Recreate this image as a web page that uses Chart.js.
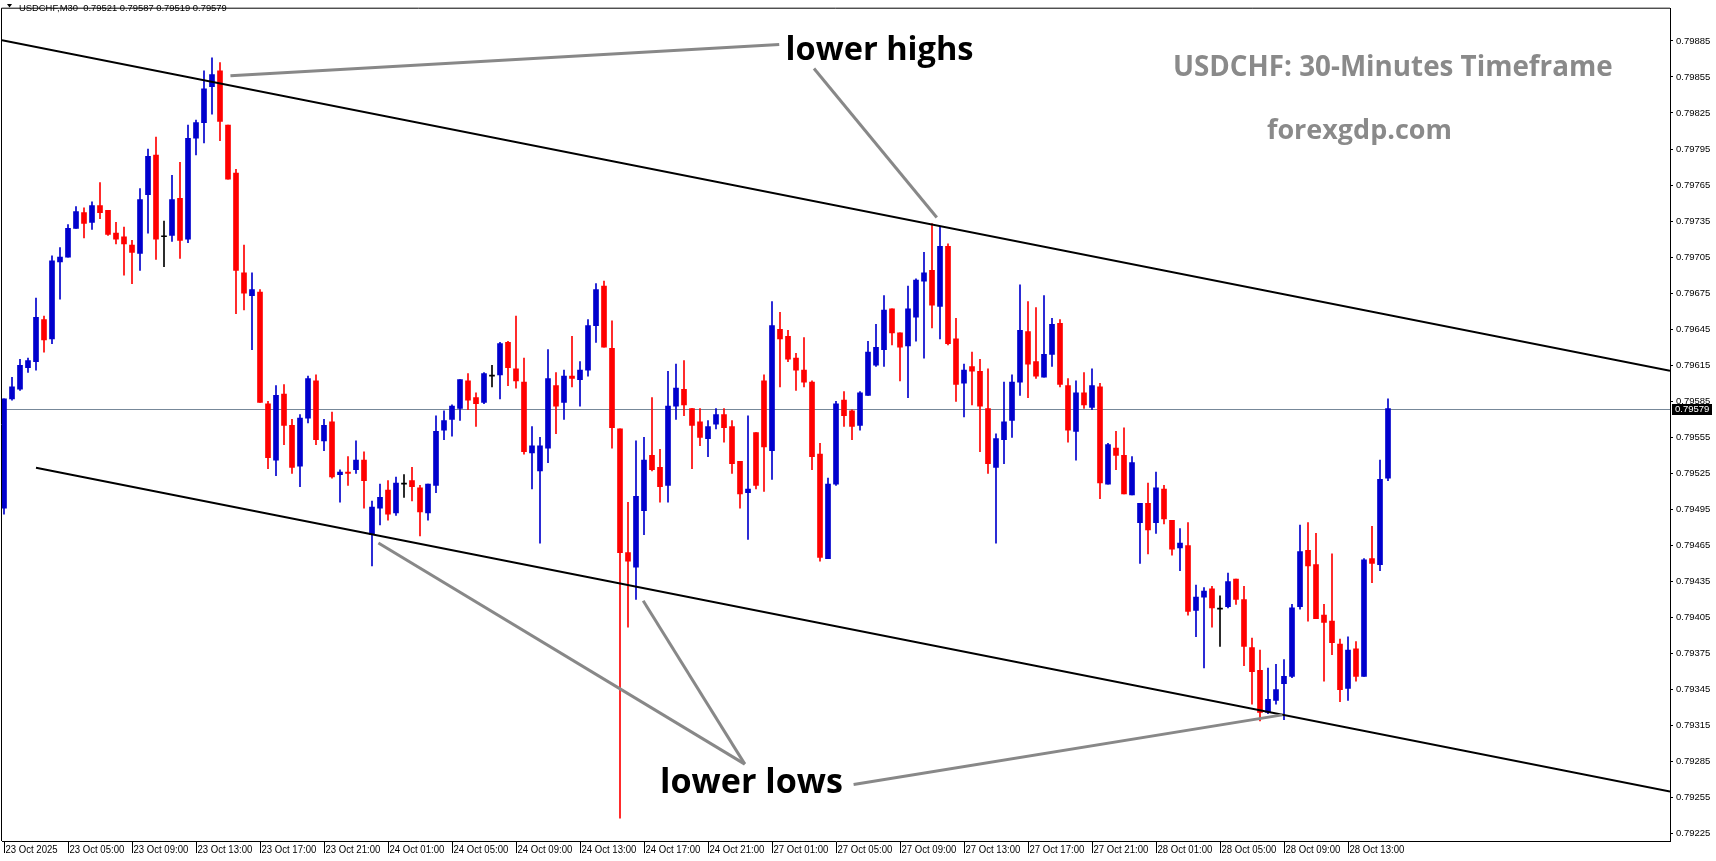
<!DOCTYPE html>
<html>
<head>
<meta charset="utf-8">
<title>USDCHF M30</title>
<script src="https://cdn.jsdelivr.net/npm/chart.js@4.4.1/dist/chart.umd.min.js"></script>
<style>
  html, body { margin: 0; padding: 0; background: #ffffff; }
</style>
</head>
<body>
<canvas id="myChart" width="1716" height="861"></canvas>
<script>
// USDCHF M30 candles, bar 0 = 23 Oct 01:00
const opens = [
  0.79496, 0.79587, 0.79595, 0.79613, 0.79618, 0.79653, 0.79637, 0.79701, 0.79705, 0.79729,
  0.79742, 0.79734, 0.79748, 0.79744, 0.79725, 0.79722, 0.79715, 0.79708, 0.79757, 0.79790,
  0.79722, 0.79723, 0.79754, 0.79720, 0.79804, 0.79817, 0.79847, 0.79860, 0.79815, 0.79775,
  0.79692, 0.79673, 0.79676, 0.79583, 0.79536, 0.79591, 0.79565, 0.79531, 0.79571, 0.79602,
  0.79552, 0.79568, 0.79524, 0.79526, 0.79528, 0.79536, 0.79474, 0.79496, 0.79511, 0.79492,
  0.79516, 0.79519, 0.79513, 0.79492, 0.79515, 0.79561, 0.79570, 0.79579, 0.79602, 0.79588,
  0.79584, 0.79606, 0.79607, 0.79634, 0.79612, 0.79601, 0.79542, 0.79527, 0.79546, 0.79598,
  0.79584, 0.79606, 0.79603, 0.79611, 0.79648, 0.79681, 0.79629, 0.79562, 0.79459, 0.79447,
  0.79494, 0.79540, 0.79530, 0.79515, 0.79581, 0.79595, 0.79579, 0.79568, 0.79554, 0.79566,
  0.79574, 0.79564, 0.79535, 0.79509, 0.79559, 0.79602, 0.79544, 0.79645, 0.79639, 0.79621,
  0.79611, 0.79601, 0.79541, 0.79454, 0.79516, 0.79586, 0.79577, 0.79565, 0.79590, 0.79615,
  0.79628, 0.79662, 0.79642, 0.79631, 0.79655, 0.79685, 0.79694, 0.79664, 0.79714, 0.79637,
  0.79600, 0.79614, 0.79610, 0.79579, 0.79530, 0.79553, 0.79569, 0.79601, 0.79643, 0.79618,
  0.79605, 0.79624, 0.79650, 0.79598, 0.79560, 0.79592, 0.79580, 0.79597, 0.79516, 0.79546,
  0.79540, 0.79507, 0.79484, 0.79500, 0.79484, 0.79512, 0.79486, 0.79463, 0.79465, 0.79411,
  0.79422, 0.79429, 0.79412, 0.79414, 0.79437, 0.79420, 0.79380, 0.79361, 0.79326, 0.79336,
  0.79350, 0.79356, 0.79414, 0.79461, 0.79449, 0.79407, 0.79402, 0.79383, 0.79346, 0.79379,
  0.79356, 0.79454, 0.79449, 0.79521
];
const highs = [
  0.79587, 0.79605, 0.79620, 0.79621, 0.79671, 0.79656, 0.79706, 0.79713, 0.79732, 0.79747,
  0.79746, 0.79751, 0.79767, 0.79744, 0.79734, 0.79730, 0.79719, 0.79762, 0.79795, 0.79805,
  0.79735, 0.79773, 0.79784, 0.79815, 0.79819, 0.79860, 0.79871, 0.79867, 0.79815, 0.79778,
  0.79715, 0.79692, 0.79678, 0.79585, 0.79598, 0.79599, 0.79570, 0.79574, 0.79606, 0.79607,
  0.79570, 0.79576, 0.79528, 0.79539, 0.79552, 0.79543, 0.79502, 0.79516, 0.79519, 0.79522,
  0.79524, 0.79530, 0.79515, 0.79516, 0.79573, 0.79577, 0.79582, 0.79603, 0.79608, 0.79592,
  0.79609, 0.79615, 0.79634, 0.79635, 0.79656, 0.79621, 0.79564, 0.79555, 0.79628, 0.79609,
  0.79611, 0.79639, 0.79618, 0.79653, 0.79683, 0.79685, 0.79652, 0.79562, 0.79501, 0.79552,
  0.79555, 0.79588, 0.79545, 0.79610, 0.79616, 0.79619, 0.79579, 0.79579, 0.79569, 0.79579,
  0.79579, 0.79569, 0.79535, 0.79573, 0.79559, 0.79607, 0.79668, 0.79659, 0.79644, 0.79625,
  0.79638, 0.79602, 0.79550, 0.79521, 0.79585, 0.79593, 0.79578, 0.79593, 0.79635, 0.79649,
  0.79673, 0.79662, 0.79642, 0.79681, 0.79687, 0.79709, 0.79733, 0.79730, 0.79716, 0.79654,
  0.79616, 0.79626, 0.79620, 0.79612, 0.79558, 0.79601, 0.79607, 0.79682, 0.79668, 0.79663,
  0.79673, 0.79654, 0.79653, 0.79604, 0.79602, 0.79609, 0.79612, 0.79600, 0.79550, 0.79560,
  0.79563, 0.79539, 0.79500, 0.79517, 0.79526, 0.79515, 0.79486, 0.79479, 0.79484, 0.79432,
  0.79430, 0.79431, 0.79423, 0.79442, 0.79437, 0.79431, 0.79388, 0.79378, 0.79363, 0.79366,
  0.79370, 0.79416, 0.79482, 0.79484, 0.79475, 0.79416, 0.79458, 0.79387, 0.79389, 0.79385,
  0.79454, 0.79481, 0.79536, 0.79587
];
const lows = [
  0.79491, 0.79586, 0.79594, 0.79609, 0.79611, 0.79626, 0.79633, 0.79670, 0.79705, 0.79729,
  0.79721, 0.79728, 0.79737, 0.79723, 0.79716, 0.79690, 0.79683, 0.79694, 0.79725, 0.79703,
  0.79697, 0.79718, 0.79704, 0.79717, 0.79790, 0.79800, 0.79824, 0.79802, 0.79770, 0.79658,
  0.79661, 0.79628, 0.79584, 0.79529, 0.79523, 0.79549, 0.79525, 0.79514, 0.79567, 0.79549,
  0.79544, 0.79521, 0.79501, 0.79515, 0.79525, 0.79496, 0.79448, 0.79482, 0.79486, 0.79490,
  0.79505, 0.79502, 0.79473, 0.79486, 0.79509, 0.79553, 0.79556, 0.79569, 0.79578, 0.79564,
  0.79583, 0.79597, 0.79587, 0.79598, 0.79596, 0.79541, 0.79512, 0.79467, 0.79534, 0.79558,
  0.79570, 0.79597, 0.79581, 0.79606, 0.79634, 0.79630, 0.79546, 0.79238, 0.79397, 0.79420,
  0.79474, 0.79527, 0.79501, 0.79501, 0.79570, 0.79573, 0.79529, 0.79548, 0.79539, 0.79562,
  0.79551, 0.79525, 0.79496, 0.79470, 0.79512, 0.79510, 0.79520, 0.79597, 0.79618, 0.79594,
  0.79597, 0.79528, 0.79452, 0.79454, 0.79515, 0.79564, 0.79553, 0.79561, 0.79590, 0.79614,
  0.79614, 0.79632, 0.79602, 0.79588, 0.79635, 0.79621, 0.79646, 0.79637, 0.79632, 0.79585,
  0.79572, 0.79582, 0.79543, 0.79525, 0.79467, 0.79533, 0.79555, 0.79590, 0.79588, 0.79604,
  0.79605, 0.79614, 0.79597, 0.79551, 0.79536, 0.79579, 0.79578, 0.79504, 0.79516, 0.79528,
  0.79508, 0.79507, 0.79450, 0.79458, 0.79475, 0.79483, 0.79457, 0.79444, 0.79407, 0.79389,
  0.79363, 0.79397, 0.79381, 0.79413, 0.79416, 0.79365, 0.79333, 0.79319, 0.79325, 0.79333,
  0.79320, 0.79355, 0.79412, 0.79402, 0.79404, 0.79352, 0.79374, 0.79335, 0.79336, 0.79352,
  0.79356, 0.79434, 0.79444, 0.79519
];
const closes = [
  0.79587, 0.79597, 0.79615, 0.79619, 0.79655, 0.79636, 0.79702, 0.79705, 0.79729, 0.79743,
  0.79733, 0.79748, 0.79742, 0.79724, 0.79720, 0.79716, 0.79709, 0.79753, 0.79789, 0.79720,
  0.79722, 0.79753, 0.79719, 0.79804, 0.79817, 0.79845, 0.79857, 0.79818, 0.79770, 0.79694,
  0.79675, 0.79678, 0.79584, 0.79538, 0.79590, 0.79565, 0.79530, 0.79571, 0.79604, 0.79553,
  0.79565, 0.79522, 0.79526, 0.79525, 0.79536, 0.79519, 0.79497, 0.79505, 0.79491, 0.79517,
  0.79516, 0.79514, 0.79493, 0.79516, 0.79560, 0.79569, 0.79581, 0.79603, 0.79586, 0.79583,
  0.79608, 0.79606, 0.79633, 0.79613, 0.79602, 0.79543, 0.79548, 0.79548, 0.79604, 0.79581,
  0.79606, 0.79604, 0.79611, 0.79648, 0.79678, 0.79630, 0.79563, 0.79459, 0.79452, 0.79506,
  0.79536, 0.79528, 0.79514, 0.79581, 0.79596, 0.79582, 0.79565, 0.79555, 0.79564, 0.79574,
  0.79563, 0.79533, 0.79508, 0.79512, 0.79515, 0.79547, 0.79648, 0.79637, 0.79620, 0.79611,
  0.79601, 0.79539, 0.79455, 0.79516, 0.79583, 0.79573, 0.79564, 0.79592, 0.79626, 0.79630,
  0.79661, 0.79642, 0.79630, 0.79662, 0.79686, 0.79692, 0.79665, 0.79714, 0.79633, 0.79599,
  0.79611, 0.79610, 0.79581, 0.79533, 0.79554, 0.79568, 0.79601, 0.79644, 0.79616, 0.79606,
  0.79624, 0.79649, 0.79599, 0.79561, 0.79592, 0.79582, 0.79598, 0.79517, 0.79549, 0.79540,
  0.79508, 0.79534, 0.79500, 0.79478, 0.79513, 0.79487, 0.79462, 0.79467, 0.79410, 0.79422,
  0.79427, 0.79413, 0.79412, 0.79435, 0.79420, 0.79381, 0.79360, 0.79326, 0.79337, 0.79345,
  0.79356, 0.79413, 0.79460, 0.79448, 0.79404, 0.79401, 0.79384, 0.79345, 0.79378, 0.79356,
  0.79453, 0.79450, 0.79520, 0.79579
];

// time axis labels, one every 8 bars (4 hours)
const timeLabels = [
  "23 Oct 2025", "23 Oct 05:00", "23 Oct 09:00", "23 Oct 13:00", "23 Oct 17:00", "23 Oct 21:00",
  "24 Oct 01:00", "24 Oct 05:00", "24 Oct 09:00", "24 Oct 13:00", "24 Oct 17:00", "24 Oct 21:00",
  "27 Oct 01:00", "27 Oct 05:00", "27 Oct 09:00", "27 Oct 13:00", "27 Oct 17:00", "27 Oct 21:00",
  "28 Oct 01:00", "28 Oct 05:00", "28 Oct 09:00", "28 Oct 13:00"
];
const labelStep = 8;

// price axis ticks
const priceTicks = [
  0.79225, 0.79255, 0.79285, 0.79315, 0.79345, 0.79375, 0.79405, 0.79435,
  0.79465, 0.79495, 0.79525, 0.79555, 0.79585, 0.79615, 0.79645, 0.79675,
  0.79705, 0.79735, 0.79765, 0.79795, 0.79825, 0.79855, 0.79885
];

const symbolText = "USDCHF,M30  ";
const titleText = "USDCHF: 30-Minutes Timeframe";
const siteText = "forexgdp.com";

// colors and fonts
const upColor = "#0000cd";
const downColor = "#ff0000";
const dojiColor = "#000000";
const axisFont = "'Liberation Sans', Arial, sans-serif";
const noteFont = "'Open Sans', 'Liberation Sans', sans-serif";

const lastIdx = closes.length - 1;
const lastClose = closes[lastIdx];

// candle color from direction
const candleColors = opens.map((o, i) =>
  closes[i] > o ? upColor : (closes[i] < o ? downColor : dojiColor));

// floating bars for bodies and wicks
const bodies = opens.map((o, i) => ({ x: i, y: [Math.min(o, closes[i]), Math.max(o, closes[i])] }));
const wicks = highs.map((h, i) => ({ x: i, y: [lows[i], h] }));

// channel lines: anchor bar, price and slope per bar
const channel = {
  slope: -0.0000132,
  upper: [26, 0.79851],
  lower: [4, 0.795297]
};

// grey pointer lines, in bar / price units
const pointerLines = [
  [[28.3, 0.79856], [96.9, 0.79882]],
  [[101.25, 0.79862], [116.6, 0.79738]],
  [[46.8, 0.79467], [92.6, 0.79283]],
  [[79.9, 0.79419], [92.6, 0.79283]],
  [[106.2, 0.79266], [159.8, 0.79324]]
];
const notes = [
  { text: "lower highs", x: 97.7, y: 0.79877, width: 188 },
  { text: "lower lows", x: 82.0, y: 0.79267, width: 183 }
];

// font size that makes text as wide as the target
function fitSize(ctx, text, width, weight, family) {
  ctx.font = `${weight} 100px ${family}`;
  return 100 * width / ctx.measureText(text).width;
}

// price line and watermark texts, drawn under the candles
const backgroundPlugin = {
  id: "mtBackground",
  beforeDatasetsDraw(chart) {
    const { ctx, chartArea, scales } = chart;
    const y = Math.round(scales.y.getPixelForValue(lastClose)) + 0.5;
    ctx.save();
    ctx.strokeStyle = "#778899";
    ctx.lineWidth = 1;
    ctx.beginPath();
    ctx.moveTo(chartArea.left, y);
    ctx.lineTo(chartArea.right, y);
    ctx.stroke();

    // watermark title
    ctx.fillStyle = "#8a8a8a";
    ctx.textBaseline = "middle";
    ctx.textAlign = "left";
    let s = fitSize(ctx, titleText, 440, "bold", noteFont);
    ctx.font = `bold ${s}px ${noteFont}`;
    ctx.fillText(titleText, 1173, 68);
    s = fitSize(ctx, siteText, 185, "bold", noteFont);
    ctx.font = `bold ${s}px ${noteFont}`;
    ctx.fillText(siteText, 1267, 131);
    ctx.restore();
  }
};

// channel, pointer lines, notes, frame, header, time labels and price tag
const overlayPlugin = {
  id: "mtOverlay",
  afterDatasetsDraw(chart) {
    const { ctx, chartArea, scales } = chart;
    const xs = scales.x, ys = scales.y;
    const px = (v) => xs.getPixelForValue(v);
    const py = (v) => ys.getPixelForValue(v);
    ctx.save();
    ctx.beginPath();
    ctx.rect(chartArea.left, chartArea.top, chartArea.right - chartArea.left, chartArea.bottom - chartArea.top);
    ctx.clip();

    // channel
    ctx.strokeStyle = "#000000";
    ctx.lineWidth = 2;
    const lineAt = (anchor, i) => anchor[1] + (i - anchor[0]) * channel.slope;
    ctx.beginPath();
    ctx.moveTo(px(xs.min), py(lineAt(channel.upper, xs.min)));
    ctx.lineTo(px(xs.max), py(lineAt(channel.upper, xs.max)));
    ctx.moveTo(px(channel.lower[0]), py(channel.lower[1]));
    ctx.lineTo(px(xs.max), py(lineAt(channel.lower, xs.max)));
    ctx.stroke();

    // pointers
    ctx.strokeStyle = "#888888";
    ctx.lineWidth = 3;
    pointerLines.forEach(([a, b]) => {
      ctx.beginPath();
      ctx.moveTo(px(a[0]), py(a[1]));
      ctx.lineTo(px(b[0]), py(b[1]));
      ctx.stroke();
    });

    // notes
    ctx.fillStyle = "#000000";
    ctx.textAlign = "left";
    ctx.textBaseline = "middle";
    notes.forEach(n => {
      const s = fitSize(ctx, n.text, n.width, "bold", noteFont);
      ctx.font = `bold ${s}px ${noteFont}`;
      ctx.fillText(n.text, px(n.x), py(n.y));
    });
    ctx.restore();

    // frame top and left
    ctx.save();
    ctx.strokeStyle = "#000000";
    ctx.lineWidth = 1;
    ctx.beginPath();
    ctx.moveTo(chartArea.left - 0.5, chartArea.bottom);
    ctx.lineTo(chartArea.left - 0.5, chartArea.top - 0.5);
    ctx.lineTo(chartArea.right, chartArea.top - 0.5);
    ctx.stroke();
    ctx.restore();
  },
  afterDraw(chart) {
    const { ctx, chartArea, scales } = chart;
    ctx.save();
    // header with last bar values
    ctx.fillStyle = "#000000";
    ctx.beginPath();
    ctx.moveTo(7, 4);
    ctx.lineTo(12, 4);
    ctx.lineTo(9.5, 7.5);
    ctx.closePath();
    ctx.fill();
    const head = symbolText + [opens[lastIdx], highs[lastIdx], lows[lastIdx], closes[lastIdx]]
      .map(v => v.toFixed(5)).join(" ");
    const hs = fitSize(ctx, head, 208, "normal", axisFont);
    ctx.font = `${hs}px ${axisFont}`;
    ctx.textAlign = "left";
    ctx.textBaseline = "middle";
    ctx.fillText(head, 19, 8);

    // time labels: narrow text next to each axis tick
    ctx.font = `11px ${axisFont}`;
    ctx.textBaseline = "top";
    scales.x.ticks.forEach((t, k) => {
      ctx.save();
      ctx.translate(scales.x.getPixelForValue(t.value) + 1.5, chartArea.bottom + 3);
      ctx.scale(0.87, 1);
      ctx.fillText(timeLabels[k], 0, 0);
      ctx.restore();
    });

    // price tag on the axis
    const y = Math.round(scales.y.getPixelForValue(lastClose));
    ctx.fillStyle = "#000000";
    ctx.fillRect(chartArea.right + 2, y - 5, 40, 11);
    ctx.fillStyle = "#ffffff";
    ctx.font = `9.5px ${axisFont}`;
    ctx.textBaseline = "middle";
    ctx.fillText(lastClose.toFixed(5), chartArea.right + 5, y + 0.5);
    ctx.restore();
  }
};

const canvas = document.getElementById("myChart");
const ctx = canvas.getContext("2d");

new Chart(ctx, {
  type: "bar",
  data: {
    datasets: [
      {
        label: "body",
        data: bodies,
        backgroundColor: candleColors,
        borderWidth: 0,
        barThickness: 5,
        minBarLength: 1,
        grouped: false
      },
      {
        label: "wick",
        data: wicks,
        backgroundColor: candleColors,
        borderWidth: 0,
        barThickness: 1,
        grouped: false
      }
    ]
  },
  options: {
    responsive: false,
    animation: false,
    devicePixelRatio: 1,
    layout: { padding: { top: 2, left: 2, right: 0, bottom: 0 } },
    plugins: {
      legend: { display: false },
      tooltip: { enabled: false },
      title: { display: false }
    },
    scales: {
      x: {
        type: "linear",
        min: -0.25,
        max: 208.25,
        offset: false,
        grid: { drawOnChartArea: false, offset: false, tickLength: 12, color: "#000000" },
        border: { display: true, color: "#000000" },
        afterBuildTicks: (scale) => {
          scale.ticks = timeLabels.map((t, k) => ({ value: k * labelStep }));
        },
        afterFit: (scale) => { scale.height = 20; },
        ticks: { display: false, autoSkip: false, maxRotation: 0 }
      },
      y: {
        position: "right",
        min: 0.79219,
        max: 0.799118,
        beginAtZero: false,
        grid: { drawOnChartArea: false, tickLength: 3, color: "#000000" },
        border: { display: true, color: "#000000" },
        afterBuildTicks: (scale) => {
          scale.ticks = priceTicks.map(v => ({ value: v }));
        },
        afterFit: (scale) => { scale.width = 46; },
        ticks: {
          padding: 3,
          color: "#000000",
          font: { family: axisFont, size: 9.5 },
          callback: (v) => v.toFixed(5)
        }
      }
    }
  },
  plugins: [backgroundPlugin, overlayPlugin]
});
</script>
</body>
</html>
